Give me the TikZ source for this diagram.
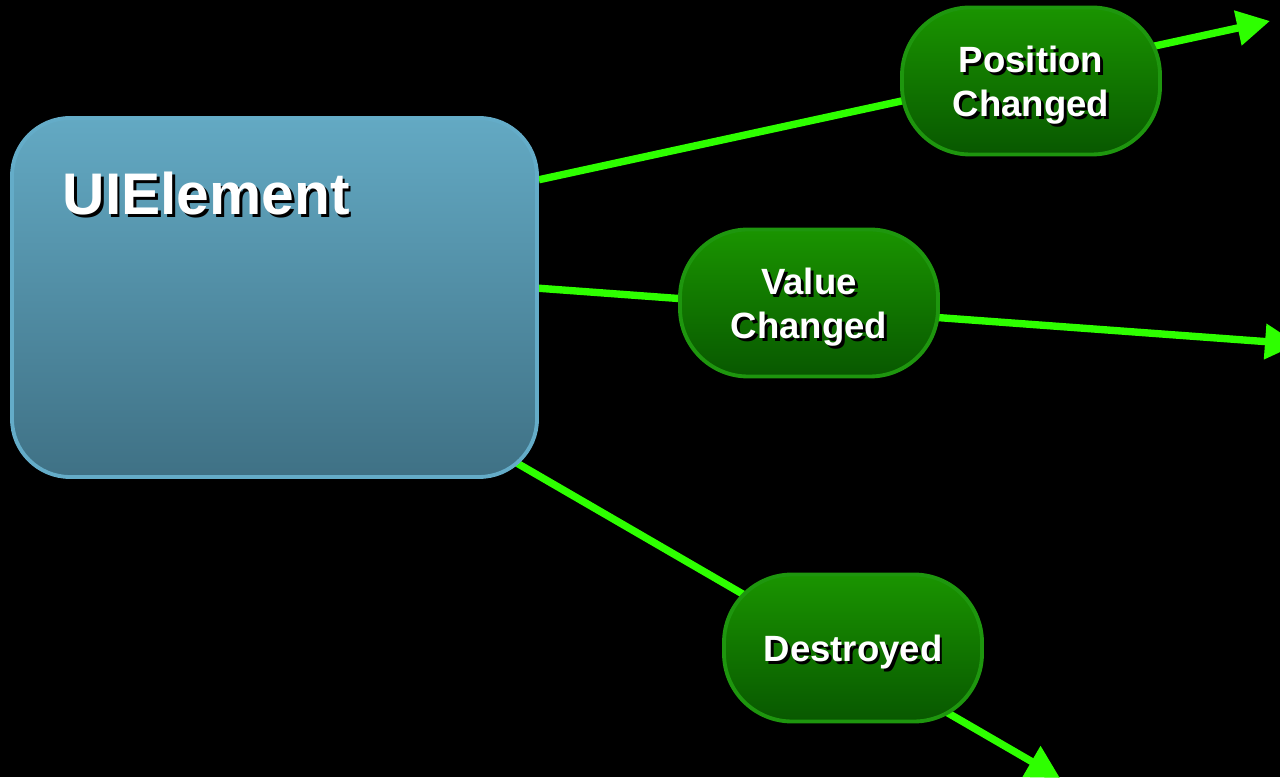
\documentclass[tikz,border=0pt]{standalone}
\usepackage{fontspec}
\setmainfont{Liberation Sans}
\usetikzlibrary{arrows.meta,backgrounds}

\definecolor{boxtop}{RGB}{99,169,195}
\definecolor{boxbot}{RGB}{63,113,133}
\definecolor{boxline}{RGB}{100,172,200}
\definecolor{evtop}{RGB}{26,148,0}
\definecolor{evbot}{RGB}{8,88,0}
\definecolor{evline}{RGB}{30,150,14}
\definecolor{flowgreen}{RGB}{46,255,0}

% text with a small drop shadow
\newcommand{\shad}[1]{\leavevmode\rlap{\kern0.8pt\raisebox{-0.8pt}{\color{black}#1}}#1}

\tikzset{
  uibox/.style={draw=boxline, line width=1.1pt, rounded corners=0.58cm,
    top color=boxtop, bottom color=boxbot, minimum width=5.25cm, minimum height=3.59cm},
  event/.style={draw=evline, line width=1.1pt, rounded corners=0.68cm,
    top color=evtop, bottom color=evbot, minimum width=2.58cm, minimum height=1.47cm,
    text=white, text depth=0pt, font=\bfseries\fontsize{10.4}{12.5}\selectfont, align=center},
  flow/.style={draw=flowgreen, line width=2.1pt, -{Triangle[length=0.33cm,width=0.34cm]}},
}

\begin{document}
\begin{tikzpicture}
      \useasboundingbox (0,0) rectangle (12.8,7.77);
      \node[uibox] (ui) at (2.745,4.795) {};
      \node[anchor=base west, inner sep=0pt, text=white,
        font=\bfseries\fontsize{16.7}{20}\selectfont] (uiname) at (0.62,5.62) {\shad{UIElement}};
      \node[event] (pc) at (10.31,6.96) {\shad{Position}\\\shad{Changed}};
      \node[event] (vc) at (8.09,4.74) {\shad{Value}\\\shad{Changed}};
      \node[event] (ds) at (8.53,1.29) {\shad{Destroyed}};
      \coordinate (pcEnd) at (12.70,7.56);
      \coordinate (vcEnd) at (12.98,4.33);
      \coordinate (dsEnd) at (10.60,-0.01);
      % lines run behind the boxes
      \begin{scope}[on background layer]
        \fill[black] (0,0) rectangle (12.8,7.77);
        \draw[flow] (ui.24) -- (pcEnd);
        \draw[flow] (ui.2) -- (vcEnd);
        \draw[flow, shorten <=-0.6cm] (ui.-34) -- (dsEnd);
      \end{scope}
\end{tikzpicture}
\end{document}
